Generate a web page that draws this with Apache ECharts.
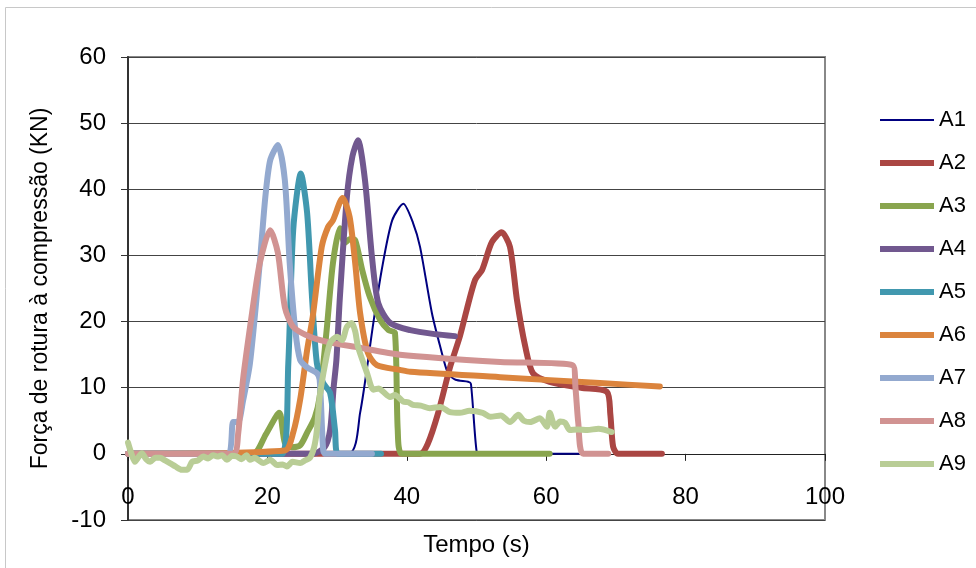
<!DOCTYPE html>
<html><head><meta charset="utf-8">
<script src="https://cdn.jsdelivr.net/npm/echarts@6/dist/echarts.min.js"></script>
<style>html,body{margin:0;padding:0;background:#fff}#c{width:976px;height:568px}</style>
</head><body><div id="c"></div>
<script>
const seriesNames = ['A1','A2','A3','A4','A5','A6','A7','A8','A9'];
const colors = ['#000080','#AA4643','#89A54E','#71588F','#4198AF','#DB843D','#93A9CF','#D19392','#B9CD96'];
const xTicks = [0,20,40,60,80,100];
const yTicks = [-10,0,10,20,30,40,50,60];

const a1 = [[0,0],[31.6,0],[33.3,6.2],[35.2,19.8],[36.4,27.8],[37.9,35.3],[39.5,37.8],[40.9,34.9],[41.9,31.3],[43.6,21.3],[44.8,16.2],[45.9,12.2],[47,11.2],[48.8,10.9],[49.2,10.6],[50.0,0.5],[50.5,0],[65,0]];
const a2 = [[0,0],[41.9,0],[43,1.5],[44.5,6.2],[46.2,13.1],[47.6,17.7],[48.6,21.8],[49.8,26.3],[50.8,27.8],[52.2,32.0],[53.6,33.5],[54.8,31.3],[55.8,23.3],[57.0,16.2],[58.1,12.2],[60.5,10.9],[65,10],[68.7,9.4],[69.2,6],[69.6,1.1],[70.3,0],[76.6,0]];
const a3 = [[0,0],[17.9,0],[19.8,3],[21.7,6.2],[22.5,1.7],[23.5,1],[24.7,1.3],[25.7,3.2],[26.8,5.5],[27.5,8.6],[28.5,18.7],[29.4,28.8],[30.4,34.1],[31.1,31.9],[31.9,32.5],[32.6,32.3],[33.6,27.8],[34.7,23.7],[36.2,20.2],[37.4,18.7],[38.3,18.3],[38.7,3.6],[39.3,0],[60.5,0]];
const a4 = [[0,0],[26.5,0],[28.2,1],[29.0,3.6],[29.5,10],[29.9,14.2],[30.4,23.7],[31.4,38.8],[32.2,45],[33.0,47.4],[34.0,41.4],[35.0,29.8],[35.9,22.8],[37.6,19.8],[40.5,18.7],[44,18.1],[46.9,17.8]];
const a5 = [[0,0],[22.1,0],[23.0,13.7],[23.7,33.8],[24.8,42.4],[25.7,36.4],[26.4,23.7],[27.1,13.7],[28.0,10.7],[29.0,9.2],[29.7,3.6],[30.1,0],[36.3,0]];
const a6 = [[0,0],[22.5,0.5],[23.7,3.2],[24.7,8.2],[25.7,15.7],[26.5,20.7],[27.8,31.3],[28.7,34.3],[29.4,35.3],[30.8,38.7],[31.8,35.8],[32.6,28.8],[33.3,21.3],[34.4,15.3],[35.7,13.4],[39,12.7],[40.5,12.4],[53.4,11.6],[67.7,10.7],[76.3,10.2]];
const a7 = [[0,0],[14.2,0],[15.1,4.8],[15.8,4.8],[16.5,8],[17.5,13.7],[18.9,28.8],[19.7,38.8],[20.4,44.4],[21.5,46.7],[22.5,41.4],[23.2,28.8],[24.0,18.7],[24.7,14.2],[25.8,13],[27.1,12.2],[27.5,11.2],[28.0,0.6],[28.3,0],[35,0]];
const a8 = [[0,0],[15.1,0],[15.8,3],[16.5,11.2],[17.8,21.3],[18.9,28.8],[20.4,33.8],[21.5,30.4],[22.5,22.2],[23.7,19.2],[26.1,17.7],[28.7,16.9],[33,16.1],[39.0,15.0],[53.4,13.9],[63.8,13.4],[64.2,10],[64.6,4.7],[65.3,0],[68.9,0]];
const a9 = [[0,1.7],[0.5,0],[1.0,-1.2],[1.5,-0.5],[2.0,0.1],[2.6,-0.8],[3.2,-1.2],[3.9,-0.6],[4.6,-0.6],[5.3,-1.0],[6.0,-1.4],[6.8,-1.9],[7.7,-2.4],[8.5,-2.4],[9.2,-1.2],[10.0,-1.0],[10.8,-0.4],[11.5,-0.7],[12.2,-0.2],[12.8,-0.4],[13.5,-0.2],[14.2,-0.9],[14.9,-0.3],[15.6,-0.4],[16.3,-0.8],[17.0,-0.2],[17.5,-0.9],[18.2,-0.6],[18.8,-1.0],[19.4,-1.4],[20.4,-0.9],[21.4,-1.7],[22.2,-1.6],[22.8,-1.9],[23.6,-1.2],[24.7,-1.4],[25.4,-1.0],[26.1,-0.6],[26.7,1],[27.1,3.6],[27.5,8.6],[28.3,13.7],[29.0,16.8],[30.0,17.7],[30.7,17.2],[31.4,19.2],[32.1,19.8],[32.6,18.5],[33.0,16.2],[34.3,12.2],[35.2,9.7],[36.0,9.9],[36.6,9.4],[37.6,8.6],[38.3,8.9],[39.5,7.9],[40.2,7.8],[40.9,7.4],[42.0,7.3],[43.3,6.9],[44.8,7.1],[46.2,6.3],[47.6,6.2],[49.0,6.5],[50.9,6.2],[52.0,5.6],[53.5,5.8],[54.8,4.8],[56,5.9],[56.8,5.0],[57.7,4.8],[59.1,5.4],[60.1,4.1],[60.5,6.2],[61.3,4.1],[62.0,4.9],[62.7,4.7],[63.4,3.6],[64.5,3.7],[65.9,3.6],[67.5,3.8],[69.4,3.3]];

const allData = [a1,a2,a3,a4,a5,a6,a7,a8,a9];
const FONT = 'Liberation Sans, Arial, sans-serif';
const thickIcon = 'path://M0,0L0,0M0,0H54V6H0Z';
const thinIcon = 'path://M0,0L0,0M0,2H54V4H0ZM54,6L54,6';

const chart = echarts.init(document.getElementById('c'), null, {renderer:'canvas'});
chart.setOption({
  animation: false,
  backgroundColor: '#fff',
  graphic: [{type:'rect', shape:{x:5.5,y:7.5,width:980,height:580}, style:{fill:'none', stroke:'#c8c8c8', lineWidth:1}, z:-10}],
  grid: {left:128, right:151, top:57, bottom:48, containLabel:false, outerBoundsMode:'none',
         show:true, borderColor:'#888', borderWidth:2, backgroundColor:'transparent'},
  legend: {
    orient:'vertical', left:875, top:104, itemWidth:54, itemHeight:6, itemGap:21,
    textStyle:{fontSize:22, fontFamily:FONT, color:'#000'},
    data: seriesNames.map((n,i)=>({name:n, icon: i===0 ? thinIcon : thickIcon}))
  },
  xAxis: {
    type:'value', min:xTicks[0], max:xTicks[xTicks.length-1], interval:20,
    name:'Tempo (s)', nameLocation:'middle', nameGap:13,
    nameTextStyle:{fontSize:24, fontFamily:FONT, color:'#000'},
    axisLine:{onZero:true, lineStyle:{color:'#222', width:1}},
    axisTick:{length:7, lineStyle:{color:'#222'}},
    axisLabel:{fontSize:24, fontFamily:FONT, color:'#000', margin:-35},
    splitLine:{show:false}
  },
  yAxis: {
    type:'value', min:yTicks[0], max:yTicks[yTicks.length-1], interval:10,
    name:'Força de rotura à compressão (KN)', nameLocation:'middle', nameGap:76,
    nameTextStyle:{fontSize:23, fontFamily:FONT, color:'#000'},
    axisLine:{show:true, onZero:false, lineStyle:{color:'#333', width:2}},
    axisTick:{show:true, length:7, lineStyle:{color:'#333'}},
    axisLabel:{fontSize:24, fontFamily:FONT, color:'#000', margin:22},
    splitLine:{show:true, lineStyle:{color:'#444', width:1}}
  },
  series: allData.map((d,i)=>({
    name: seriesNames[i], type:'line', data:d, smooth:0.25,
    showSymbol:false, symbol:'none', color:colors[i],
    lineStyle:{width: i===0?2:6, color:colors[i], cap:'round', join:'round'},
    emphasis:{disabled:true}
  }))
});
</script></body></html>
